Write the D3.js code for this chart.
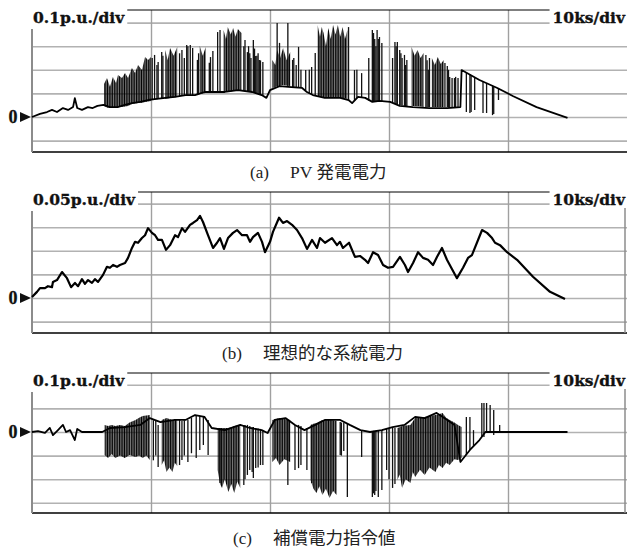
<!DOCTYPE html>
<html><head><meta charset="utf-8">
<script src="https://cdn.jsdelivr.net/npm/d3@7"></script>
<style>html,body{margin:0;padding:0;background:#fff}svg{display:block}</style>
</head><body>
<svg id="chart" width="627" height="549"></svg>
<script>
// ---------- DATA (time in ks, values in p.u.) ----------
const timeGrid = [10, 20, 30, 40];
const timeLabel = "10ks/div";
const panelTags = ["(a)", "(b)", "(c)"];
const captions = ["PV 発電電力", "理想的な系統電力", "補償電力指令値"];
const scaleLabels = ["0.1p.u./div", "0.05p.u./div", "0.1p.u./div"];
const divSizes = [0.1, 0.05, 0.1];
const gridDivs = [[-1, 0, 1, 2, 3, 4], [-1, 0, 1, 2, 3, 4], [-3, -2, -1, 0, 1, 2]];

// (a) PV power: base trace, dense bursts [t, low, high], single spikes [t, low, high]
const pvBase = [[0,0],[0.67,0.013],[1.26,0.021],[1.68,0.030],[2.1,0.021],[2.6,0.038],[3.03,0.030],[3.45,0.042],[3.6,0.08],[3.8,0.038],[4.2,0.030],[4.7,0.042],[5.1,0.038],[5.5,0.047],[6.0,0.051],[6.55,0.042],[7.2,0.042],[7.8,0.051],[8.4,0.059],[9.1,0.064],[9.75,0.072],[10.3,0.076],[11.2,0.081],[12.0,0.085],[12.9,0.093],[13.7,0.093],[14.5,0.106],[15.4,0.106],[16.2,0.106],[17.3,0.114],[18.5,0.106],[19.3,0.093],[19.7,0.081],[20.0,0.114],[20.8,0.131],[21.8,0.127],[22.7,0.123],[23.1,0.106],[23.6,0.093],[24.6,0.081],[25.9,0.081],[26.6,0.072],[26.9,0.059],[27.4,0.085],[28.0,0.081],[28.6,0.064],[29.2,0.068],[30.1,0.064],[30.9,0.047],[32.0,0.042],[33.4,0.038],[34.9,0.038],[36.0,0.042],[36.1,0.199],[37.6,0.157],[39.1,0.123],[40.4,0.089],[42.4,0.042],[45.0,-0.004]];
const pvBands = [
  [[6.05,0.047,0.140],[6.3,0.040,0.165],[6.55,0.038,0.128],[6.8,0.038,0.169],[7.06,0.040,0.144],[7.23,0.042,0.178],[7.56,0.042,0.165],[7.82,0.045,0.186],[8.07,0.047,0.165],[8.4,0.055,0.208],[8.66,0.057,0.186],[8.91,0.059,0.220],[9.24,0.060,0.199],[9.5,0.064,0.254],[9.75,0.066,0.242],[10.0,0.068,0.254]],
  [[11.2,0.076,0.284],[11.4,0.078,0.240],[11.6,0.081,0.292],[11.9,0.083,0.260],[12.2,0.085,0.297]],
  [[14.1,0.097,0.301],[14.35,0.100,0.260],[14.6,0.102,0.297]],
  [[16.1,0.106,0.369],[16.3,0.106,0.330],[16.45,0.106,0.381],[16.7,0.108,0.350],[16.9,0.110,0.377],[17.1,0.112,0.340],[17.3,0.114,0.373],[17.6,0.110,0.356]],
  [[20.2,0.123,0.242],[20.45,0.127,0.220],[20.6,0.131,0.284],[20.85,0.133,0.250],[21.1,0.136,0.292],[21.4,0.133,0.240],[21.7,0.131,0.275]],
  [[24.0,0.089,0.390],[24.2,0.087,0.340],[24.35,0.085,0.381],[24.5,0.085,0.356],[24.7,0.083,0.300],[24.9,0.081,0.377],[25.1,0.081,0.330],[25.3,0.081,0.390],[25.5,0.081,0.350],[25.7,0.081,0.390],[25.9,0.081,0.340],[26.1,0.081,0.381],[26.3,0.078,0.330],[26.5,0.076,0.369]],
  [[31.9,0.047,0.297],[32.15,0.047,0.260],[32.4,0.047,0.284],[32.65,0.045,0.250],[32.9,0.042,0.271]],
  [[33.6,0.042,0.250],[33.85,0.042,0.220],[34.1,0.042,0.254],[34.35,0.042,0.225],[34.6,0.042,0.242]]
];
const pvSpikes = [[10.1,0.072,0.250],[10.3,0.072,0.263],[10.5,0.075,0.220],[10.6,0.076,0.233],[10.9,0.076,0.275],[11.0,0.078,0.260],[12.4,0.087,0.270],[12.6,0.089,0.284],[12.8,0.090,0.250],[13.0,0.089,0.305],[13.1,0.091,0.300],[13.3,0.093,0.305],[13.5,0.093,0.292],[13.9,0.093,0.242],[14.0,0.095,0.270],[14.9,0.106,0.230],[15.0,0.106,0.254],[15.2,0.106,0.280],[15.6,0.106,0.360],[15.8,0.106,0.369],[17.8,0.110,0.300],[17.9,0.110,0.326],[18.1,0.106,0.275],[18.2,0.106,0.300],[18.3,0.106,0.270],[18.4,0.106,0.250],[18.6,0.106,0.326],[18.7,0.104,0.290],[18.8,0.102,0.258],[18.9,0.100,0.260],[19.0,0.098,0.270],[19.1,0.097,0.242],[19.2,0.095,0.240],[19.4,0.093,0.233],[20.6,0.131,0.398],[20.8,0.131,0.314],[21.5,0.131,0.398],[21.9,0.127,0.242],[22.0,0.127,0.250],[22.2,0.125,0.220],[22.4,0.127,0.297],[22.6,0.125,0.200],[23.0,0.114,0.199],[23.3,0.100,0.200],[23.5,0.097,0.212],[23.8,0.093,0.271],[26.6,0.072,0.381],[27.1,0.068,0.199],[27.3,0.080,0.200],[27.7,0.081,0.186],[28.3,0.070,0.250],[28.6,0.064,0.369],[28.7,0.064,0.356],[28.8,0.064,0.330],[28.9,0.064,0.300],[29.0,0.064,0.369],[29.1,0.064,0.330],[29.2,0.068,0.339],[29.4,0.068,0.314],[30.3,0.060,0.250],[30.5,0.055,0.318],[30.6,0.055,0.300],[30.7,0.055,0.318],[30.9,0.051,0.284],[31.0,0.050,0.270],[31.1,0.050,0.250],[31.3,0.047,0.263],[31.4,0.047,0.220],[31.5,0.047,0.242],[33.1,0.042,0.263],[33.2,0.042,0.240],[33.3,0.042,0.200],[33.4,0.042,0.250],[34.7,0.042,0.229],[34.9,0.042,0.216],[35.0,0.040,0.200],[35.1,0.040,0.170],[35.3,0.038,0.165],[35.5,0.038,0.165],[35.6,0.038,0.170],[35.8,0.038,0.165],[36.5,0.021,0.186],[36.8,0.017,0.182],[36.9,0.021,0.178],[37.2,0.030,0.169],[37.9,0.017,0.152],[38.2,0.017,0.144],[38.7,0.008,0.131],[38.8,0.013,0.131],[39.2,0.072,0.123]];

// (b) ideal grid power
const gridPower = [[0,0.002],[0.42,0.013],[0.67,0.021],[1.09,0.021],[1.34,0.025],[1.68,0.023],[1.76,0.034],[2.10,0.038],[2.52,0.055],[2.94,0.042],[3.28,0.023],[3.61,0.032],[3.87,0.025],[4.20,0.040],[4.45,0.030],[4.71,0.038],[5.04,0.032],[5.29,0.040],[5.55,0.034],[5.97,0.049],[6.30,0.066],[6.55,0.064],[6.81,0.070],[7.14,0.066],[7.39,0.070],[7.82,0.074],[8.07,0.085],[8.40,0.106],[8.66,0.119],[8.91,0.117],[9.24,0.127],[9.50,0.133],[9.75,0.148],[10.08,0.138],[10.34,0.133],[10.59,0.123],[10.92,0.123],[11.26,0.102],[11.60,0.112],[12.02,0.133],[12.27,0.129],[12.61,0.148],[12.86,0.140],[13.28,0.155],[13.53,0.159],[13.87,0.165],[14.12,0.174],[14.37,0.161],[14.79,0.133],[15.21,0.106],[15.55,0.117],[15.80,0.127],[16.13,0.104],[16.47,0.127],[16.89,0.138],[17.23,0.144],[17.65,0.133],[18.07,0.133],[18.32,0.119],[18.57,0.129],[18.99,0.138],[19.33,0.119],[19.58,0.097],[20.00,0.119],[20.25,0.140],[20.76,0.170],[21.09,0.159],[21.43,0.163],[21.85,0.155],[22.27,0.144],[22.69,0.127],[23.11,0.104],[23.53,0.123],[23.95,0.106],[24.20,0.127],[24.62,0.117],[25.21,0.127],[25.63,0.112],[25.88,0.119],[26.13,0.106],[26.64,0.117],[27.14,0.087],[27.56,0.089],[27.98,0.081],[28.24,0.074],[28.66,0.097],[29.08,0.091],[29.50,0.070],[29.92,0.064],[30.34,0.066],[30.92,0.087],[31.34,0.070],[31.60,0.055],[32.02,0.074],[32.44,0.097],[32.86,0.085],[33.28,0.081],[33.70,0.070],[34.03,0.087],[34.45,0.106],[34.87,0.081],[35.71,0.042],[36.22,0.064],[36.64,0.085],[36.97,0.091],[37.82,0.144],[38.24,0.138],[38.66,0.127],[38.91,0.117],[39.33,0.112],[39.92,0.097],[40.76,0.081],[42.10,0.045],[43.53,0.013],[44.79,-0.002]];

// (c) compensation power command
const compBase = [[0,0],[0.5,0.004],[1.09,-0.004],[1.5,0.017],[1.76,-0.013],[2.1,0.004],[2.6,0.030],[2.86,0],[3.2,0.008],[3.6,-0.034],[3.8,0.013],[4.2,0],[5.3,0],[5.9,0],[6.55,0.017],[7.8,0.021],[9.1,0.030],[9.9,0.059],[10.8,0.042],[12.0,0.051],[12.9,0.051],[13.7,0.072],[14.5,0.064],[15.1,0.017],[16.2,0.008],[17.5,0.030],[18.3,0.017],[19.3,0.008],[19.8,-0.004],[20.4,0.051],[21.3,0.059],[22.1,0.030],[22.9,0.008],[23.8,0.030],[24.6,0.051],[25.9,0.051],[26.7,0.030],[27.6,0.008],[28.4,0],[29.4,0.008],[30.3,0.021],[31.3,0.030],[32.2,0.064],[33.0,0.059],[34.0,0.081],[34.9,0.051],[35.5,0.030],[36.0,-0.127],[36.8,-0.076],[37.6,-0.034],[38.1,0],[38.9,0],[45.0,0]];
const compBands = [
  [[6.1,-0.097,0.030],[6.4,-0.110,0.025],[6.7,-0.093,0.030],[7.0,-0.110,0.025],[7.4,-0.100,0.030],[7.8,-0.110,0.025],[8.2,-0.097,0.040],[8.7,-0.106,0.051],[9.0,-0.100,0.060],[9.3,-0.110,0.068],[9.6,-0.100,0.070],[9.9,-0.119,0.072]],
  [[10.9,-0.140,0.051],[11.1,-0.120,0.055],[11.3,-0.169,0.059],[11.55,-0.150,0.055],[11.8,-0.169,0.051],[12.0,-0.130,0.051],[12.2,-0.144,0.051]],
  [[15.6,-0.161,0.017],[15.8,-0.220,0.017],[15.97,-0.237,0.017],[16.2,-0.200,0.017],[16.5,-0.254,0.017],[16.75,-0.220,0.020],[17.0,-0.258,0.025],[17.25,-0.210,0.028],[17.5,-0.237,0.030]],
  [[20.2,-0.127,0.051],[20.5,-0.110,0.055],[20.8,-0.140,0.059],[21.2,-0.115,0.055],[21.7,-0.127,0.051]],
  [[23.4,-0.203,0.030],[23.65,-0.240,0.035],[23.9,-0.258,0.038],[24.15,-0.230,0.045],[24.4,-0.267,0.051],[24.7,-0.240,0.051],[25.0,-0.280,0.051],[25.3,-0.250,0.050],[25.6,-0.267,0.047]],
  [[30.7,-0.203,0.017],[30.9,-0.180,0.020],[31.1,-0.237,0.025],[31.4,-0.200,0.028],[31.8,-0.216,0.030],[32.0,-0.170,0.045],[32.2,-0.191,0.059],[32.6,-0.160,0.060],[33.0,-0.182,0.064],[33.4,-0.150,0.068],[33.9,-0.169,0.072],[34.2,-0.140,0.075],[34.5,-0.153,0.081],[34.8,-0.130,0.060],[35.1,-0.140,0.051],[35.5,-0.115,0.040],[35.8,-0.119,0.030],[36.1,-0.110,0.021]]
];
const compSpikes = [[10.2,-0.120,0.050],[10.4,-0.100,0.050],[10.6,-0.148,0.030],[12.4,-0.140,0.051],[12.6,-0.119,0.047],[12.8,-0.100,0.050],[13.1,-0.127,0.051],[13.4,-0.090,0.060],[13.8,-0.110,0.072],[14.1,-0.076,0.068],[14.4,-0.055,0.064],[14.8,-0.097,0.051],[15.8,-0.216,0.017],[17.8,-0.225,0.030],[17.9,-0.200,0.030],[18.1,-0.182,0.030],[18.3,-0.161,0.025],[18.5,-0.170,0.020],[18.6,-0.195,0.021],[18.8,-0.153,0.017],[19.0,-0.150,0.015],[19.2,-0.140,0.013],[19.4,-0.140,0.008],[21.5,-0.225,0.051],[22.1,-0.161,0.030],[22.4,-0.153,0.030],[22.6,-0.140,0.025],[23.1,-0.161,0.017],[23.5,-0.216,0.025],[25.9,-0.097,0.042],[26.0,-0.100,0.040],[26.2,-0.080,0.040],[26.5,-0.275,0.034],[27.7,-0.106,0.008],[28.6,-0.275,0.004],[28.7,-0.260,0.005],[28.8,-0.267,0.004],[28.9,-0.250,0.005],[29.1,-0.275,0.008],[29.4,-0.246,0.008],[29.8,-0.161,0.013],[30.0,-0.200,0.015],[30.3,-0.237,0.017],[30.5,-0.220,0.018],[36.5,-0.097,0.064],[36.8,-0.076,0.064],[37.1,-0.059,0.008],[37.8,-0.021,0.123],[37.98,-0.021,0.123],[38.2,-0.004,0.123],[38.5,0,0.114],[38.8,-0.013,0.093],[39.3,0,0.030]];

// ---------- LAYOUT ----------
const plotLeft = 32, plotRight = 627;
const pxPerDiv = 23.6;
const panels = [
  {top: 10, bottom: 152, zero: 117, capY: 178, tagX: 250, capX: 290, base: pvBase, bands: pvBands, spikes: pvSpikes, rightLine: false, width: 1.8},
  {top: 192, bottom: 333, zero: 298, capY: 359, tagX: 222, capX: 263, base: gridPower, bands: [], spikes: [], rightLine: true, width: 2.2},
  {top: 373, bottom: 513, zero: 432, capY: 544, tagX: 233, capX: 273, base: compBase, bands: compBands, spikes: compSpikes, rightLine: true, width: 1.8}
];

const svg = d3.select("#chart");
const defs = svg.append("defs");
const pat = defs.append("pattern").attr("id", "hatch").attr("patternUnits", "userSpaceOnUse")
  .attr("width", 1.7).attr("height", 20);
pat.append("rect").attr("x", 0).attr("y", 0).attr("width", 1.3).attr("height", 20).attr("fill", "#000");

const x = d3.scaleLinear().domain([0, 50]).range([plotLeft, plotRight]);

panels.forEach((p, i) => {
  const y = d3.scaleLinear().domain([0, divSizes[i]]).range([p.zero, p.zero - pxPerDiv]);
  const g = svg.append("g");

  // horizontal grid
  const hAxis = d3.axisLeft(y).tickValues(gridDivs[i].map(d => d * divSizes[i])).tickSize(-(plotRight - plotLeft)).tickFormat("");
  const hg = g.append("g").attr("transform", `translate(${plotLeft},0)`).call(hAxis);
  hg.select(".domain").remove();
  hg.selectAll("line").attr("stroke", "#b2b2b2").attr("stroke-width", 1.6);

  // vertical grid
  const vAxis = d3.axisBottom(x).tickValues(timeGrid).tickSize(-(p.bottom - p.top)).tickFormat("");
  const vg = g.append("g").attr("transform", `translate(0,${p.bottom})`).call(vAxis);
  vg.select(".domain").remove();
  vg.selectAll("line").attr("stroke", "#a0a0a0").attr("stroke-width", 1.4);

  // frame
  g.append("line").attr("x1", plotLeft).attr("x2", plotRight).attr("y1", p.top).attr("y2", p.top).attr("stroke", "#000").attr("stroke-width", 1);
  g.append("line").attr("x1", plotLeft).attr("x2", plotRight).attr("y1", p.bottom).attr("y2", p.bottom).attr("stroke", "#000").attr("stroke-width", 1.6);
  g.append("line").attr("x1", plotLeft).attr("x2", plotLeft).attr("y1", p.top).attr("y2", p.bottom).attr("stroke", "#8c8c8c").attr("stroke-width", 2);
  if (p.rightLine) g.append("line").attr("x1", 625).attr("x2", 625).attr("y1", p.top).attr("y2", p.bottom).attr("stroke", "#8c8c8c").attr("stroke-width", 1.5);

  // data: dense bursts (hatched)
  const area = d3.area().x(d => x(d[0])).y0(d => y(d[1])).y1(d => y(d[2]));
  g.selectAll("path.band").data(p.bands).enter().append("path").attr("class", "band")
    .attr("d", area).attr("fill", "url(#hatch)").attr("stroke", "none");
  // single spikes
  g.selectAll("line.spike").data(p.spikes).enter().append("line").attr("class", "spike")
    .attr("x1", d => x(d[0])).attr("x2", d => x(d[0])).attr("y1", d => y(d[1])).attr("y2", d => y(d[2]))
    .attr("stroke", "#111").attr("stroke-width", 1.3);
  // base trace
  const line = d3.line().x(d => x(d[0])).y(d => y(d[1]));
  g.append("path").datum(p.base).attr("d", line).attr("fill", "none").attr("stroke", "#000")
    .attr("stroke-width", p.width).attr("stroke-linejoin", "round");

  // scale label (left) with white box
  const lb = g.append("g");
  const lbRect = lb.append("rect").attr("fill", "#fff");
  const lbText = lb.append("text").attr("x", 33).attr("y", p.top + 13)
    .attr("font-family", "DejaVu Serif").attr("font-weight", "bold").attr("font-size", 15.5)
    .attr("fill", "#111").attr("stroke", "#111").attr("stroke-width", 0.35)
    .text(scaleLabels[i]);
  const lw = lbText.node().getComputedTextLength();
  lbRect.attr("x", 0).attr("y", p.top - 10).attr("width", 33 + lw + 3).attr("height", 29);

  // time label (right) with white box
  const rb = g.append("g");
  const rbRect = rb.append("rect").attr("fill", "#fff");
  const rbText = rb.append("text").attr("x", 625).attr("y", p.top + 13).attr("text-anchor", "end")
    .attr("font-family", "DejaVu Serif").attr("font-weight", "bold").attr("font-size", 15.5)
    .attr("fill", "#111").attr("stroke", "#111").attr("stroke-width", 0.35)
    .text(timeLabel);
  const rw = rbText.node().getComputedTextLength();
  rbRect.attr("x", 625 - rw - 3).attr("y", p.top - 10).attr("width", rw + 10).attr("height", 26);

  // zero marker
  g.append("text").attr("x", 13).attr("y", y(0) + 6).attr("text-anchor", "middle")
    .attr("font-family", "Liberation Serif").attr("font-weight", "bold").attr("font-size", 18)
    .attr("fill", "#111").attr("stroke", "#111").attr("stroke-width", 0.3).text("0");
  g.append("path").attr("d", `M20,${y(0) - 5}L31,${y(0)}L20,${y(0) + 5}Z`).attr("fill", "#111");

  // caption
  g.append("text").attr("x", p.tagX).attr("y", p.capY)
    .attr("font-family", "Liberation Serif, 'Noto Sans CJK JP'").attr("font-size", 17).attr("fill", "#222").text(panelTags[i]);
  g.append("text").attr("x", p.capX).attr("y", p.capY)
    .attr("font-family", "Liberation Serif, 'Noto Sans CJK JP'").attr("font-size", 17.5).attr("fill", "#222").text(captions[i]);
});
</script>
</body></html>
